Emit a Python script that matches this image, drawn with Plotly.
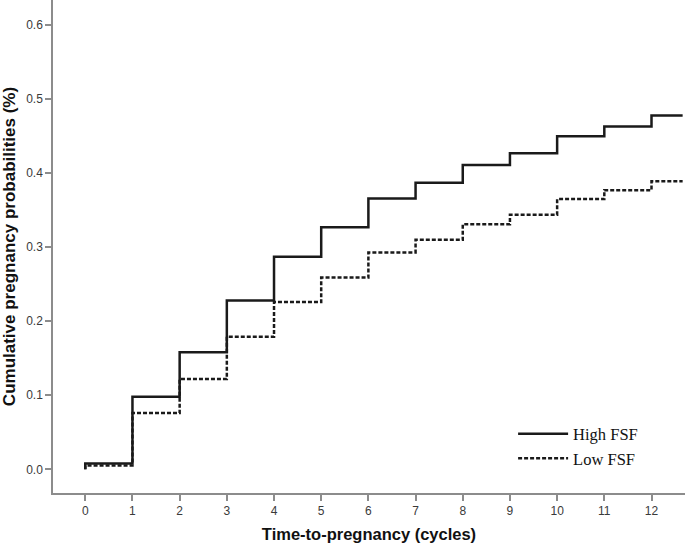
import plotly.graph_objects as go

cycles = [0, 1, 2, 3, 4, 5, 6, 7, 8, 9, 10, 11, 12]
high_fsf = [0.008, 0.098, 0.158, 0.228, 0.287, 0.327, 0.366, 0.387, 0.411, 0.427, 0.450, 0.463, 0.478]
low_fsf = [0.005, 0.076, 0.122, 0.179, 0.226, 0.259, 0.293, 0.310, 0.331, 0.344, 0.365, 0.377, 0.389]
x_end = 12.66
x_ticks = list(range(0, 13))
y_ticks = [0.0, 0.1, 0.2, 0.3, 0.4, 0.5, 0.6]

def step_xy(vals):
    xs = [cycles[0]] + cycles + [x_end]
    ys = [0.0] + vals + [vals[-1]]
    return xs, ys

fig = go.Figure()
hx, hy = step_xy(high_fsf)
lx, ly = step_xy(low_fsf)
fig.add_trace(go.Scatter(x=hx, y=hy, mode="lines", name="High FSF", line_shape="hv",
                         line=dict(color="#1a1a1a", width=2.5)))
fig.add_trace(go.Scatter(x=lx, y=ly, mode="lines", name="Low FSF", line_shape="hv",
                         line=dict(color="#1a1a1a", width=2.5, dash="4px,2px")))

axis_common = dict(showline=True, linecolor="#8c8c8c", linewidth=1.5, ticks="outside",
                   tickcolor="#8c8c8c", ticklen=6, tickwidth=1.5, showgrid=False, zeroline=False,
                   automargin=False,
                   tickfont=dict(family="Liberation Sans, Arial", size=12, color="#3a3a3a"))

fig.update_layout(
    width=685, height=547,
    margin=dict(l=53, r=0, t=0, b=54),
    paper_bgcolor="white", plot_bgcolor="white",
    xaxis=dict(range=[-0.684, 12.71], tickvals=x_ticks,
               title=dict(text="<b>Time-to-pregnancy (cycles)</b>", standoff=11,
                          font=dict(family="Liberation Sans, Arial", size=16.5, color="#111111")),
               **axis_common),
    yaxis=dict(range=[-0.032, 0.634], tickvals=y_ticks, tickformat=".1f",
               title=dict(text="<b>Cumulative pregnancy probabilities (%)</b>", standoff=6,
                          font=dict(family="Liberation Sans, Arial", size=17, color="#111111")),
               **axis_common),
    legend=dict(x=0.728, y=0.155, xanchor="left", yanchor="top", bgcolor="rgba(0,0,0,0)",
                font=dict(family="Liberation Serif, Times New Roman", size=16.5, color="#111111"),
                itemwidth=50, tracegroupgap=0),
    showlegend=True,
)

fig.write_html("out.html", config={"displayModeBar": False},
               post_script="document.body.style.margin='0';document.body.style.padding='0';"
                           "document.body.style.overflow='hidden';")
